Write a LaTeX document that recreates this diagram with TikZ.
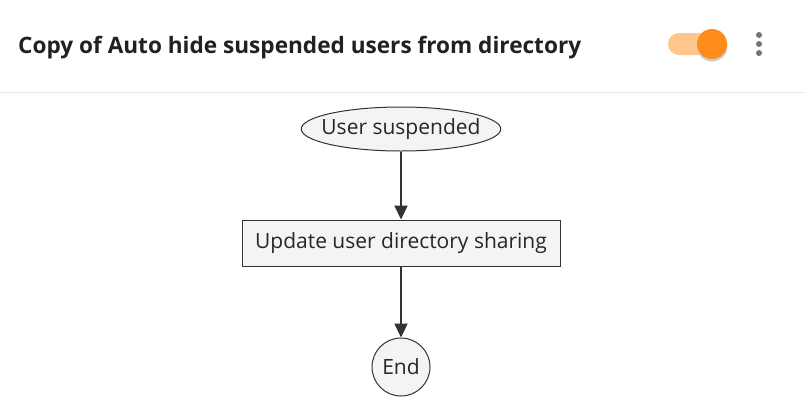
\documentclass[tikz,border=0pt]{standalone}
\usepackage{fontspec}
\setmainfont{Open Sans}
\usetikzlibrary{shapes.geometric,arrows.meta}
\definecolor{nodefill}{HTML}{F4F4F4}
\definecolor{edge}{HTML}{333333}
\tikzset{
  flowbox/.style={draw=edge,fill=nodefill,line width=1pt,font=\fontsize{21}{24}\selectfont,text=black!85,inner sep=0pt},
  conn/.style={draw=edge,line width=2.2pt,-{Triangle[length=14pt,width=13pt]}}
}
\begin{document}
\begin{tikzpicture}[x=1pt,y=-1pt]
\useasboundingbox[fill=white] (0,0) rectangle (805,400);
\draw[black!10,line width=1pt] (0,92.5) -- (805,92.5);
\node[anchor=base west,inner sep=0pt,font=\bfseries\fontsize{22.6}{26}\selectfont,text=black!87] (title) at (18,53) {Copy of Auto hide suspended users from directory};
\fill[orange!45,rounded corners=11pt] (668,33) rectangle (722,55);
\fill[black!20] (712,46) circle (15.5);
\node[circle,fill={rgb,255:red,255;green,140;blue,26},minimum size=30pt,inner sep=0pt] (knob) at (712,44) {};
\foreach \yy in {35,44,53} \fill[black!55] (759,\yy) circle (3);
\node[flowbox,ellipse,inner xsep=-9pt,minimum width=188pt,minimum height=44pt] (a) at (401,129) {User suspended};
\node[flowbox,rectangle,minimum width=318pt,minimum height=46pt] (b) at (401,243) {Update user directory sharing};
\node[flowbox,circle,minimum size=58pt] (c) at (401,367) {End};
\draw[conn] (a.south) -- (b.north);
\draw[conn] (b.south) -- (c.north);
\end{tikzpicture}
\end{document}
